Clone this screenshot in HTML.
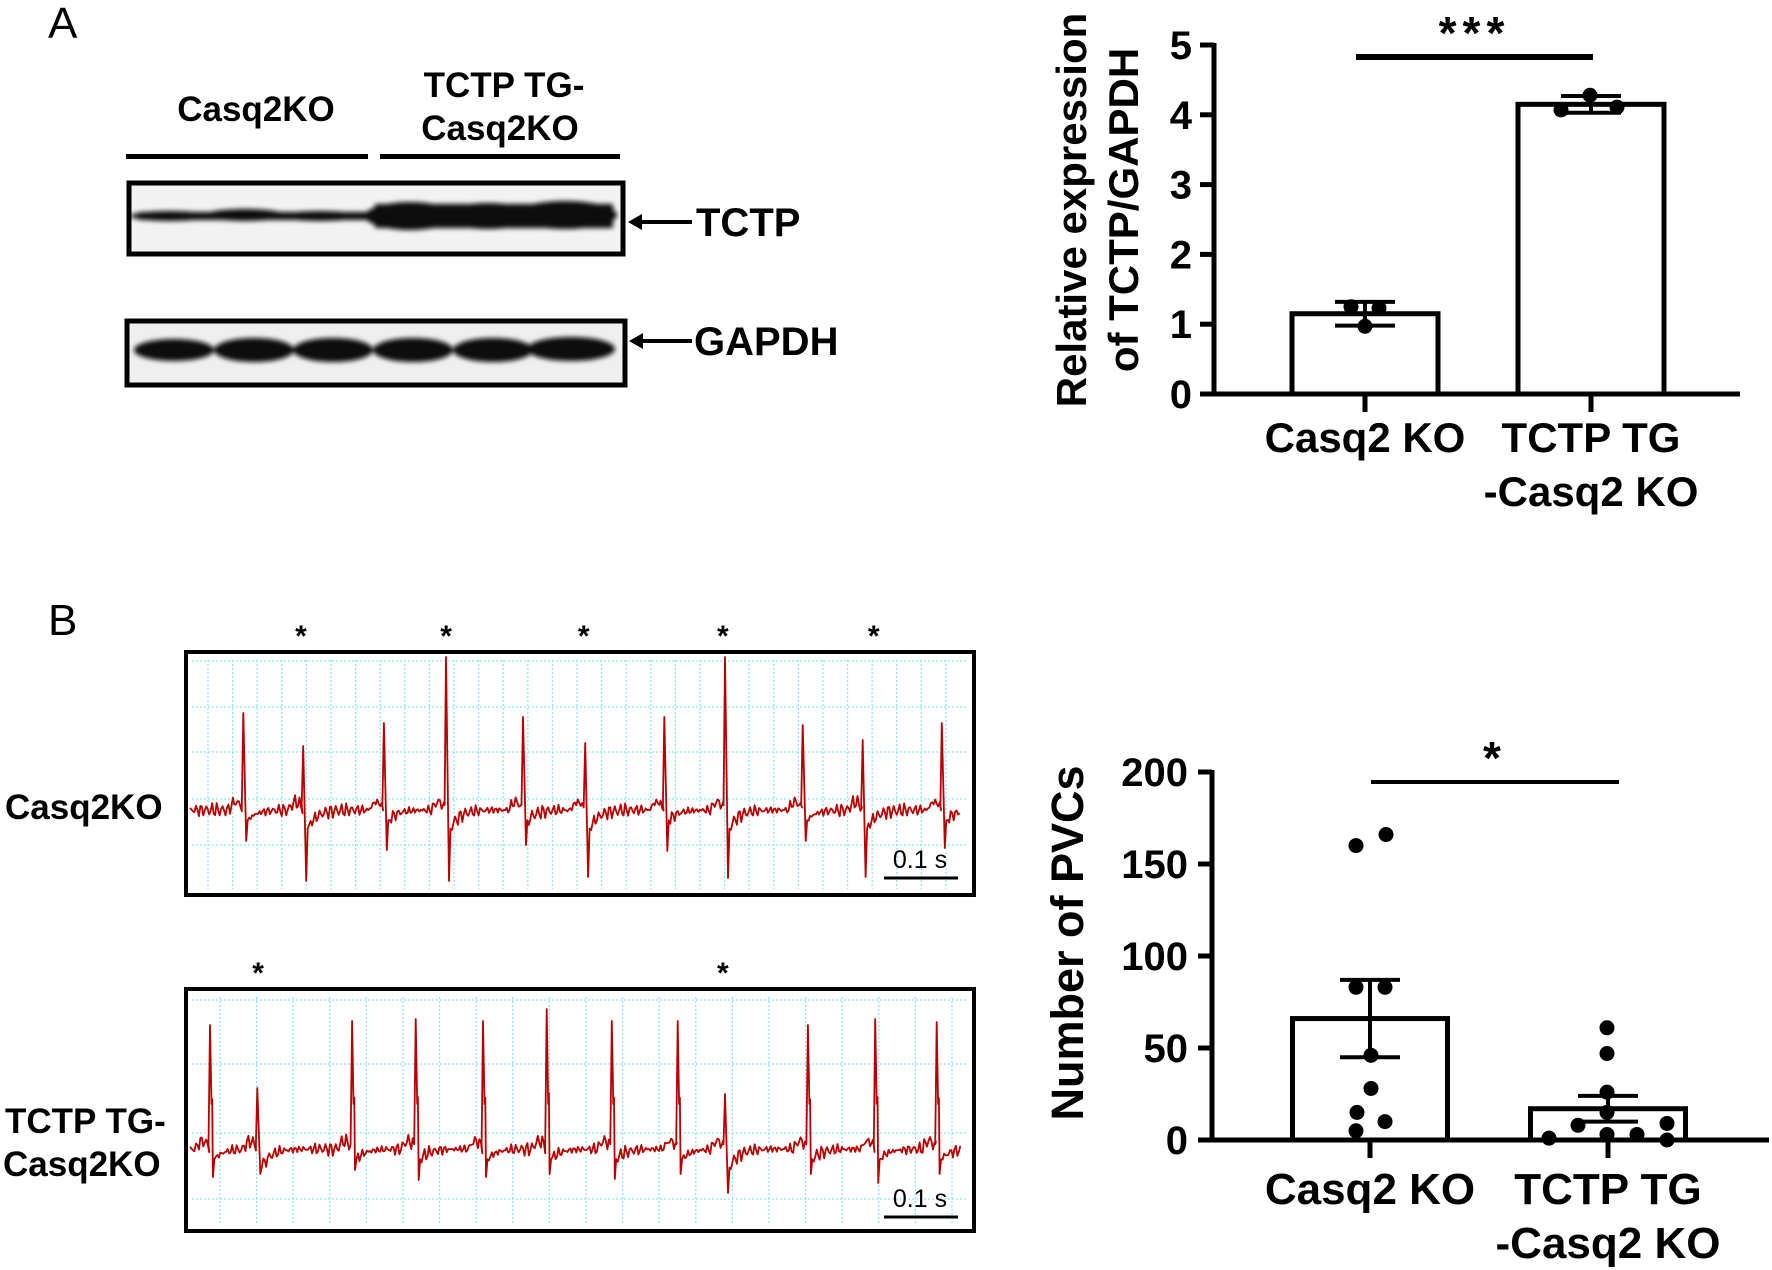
<!DOCTYPE html>
<html><head><meta charset="utf-8"><style>
html,body{margin:0;padding:0;background:#fff;}
svg{display:block;font-family:"Liberation Sans",Arial,sans-serif;}
</style></head><body>
<svg id="fig" width="1772" height="1270" viewBox="0 0 1772 1270" xmlns="http://www.w3.org/2000/svg">
<defs><filter id="blur" x="-10%" y="-50%" width="120%" height="200%"><feGaussianBlur stdDeviation="2.5"/></filter></defs>
<!-- Panel A: western blot -->
<g>
<text x="48" y="38" font-size="44">A</text>
<text x="256" y="121" font-size="35" font-weight="bold" text-anchor="middle">Casq2KO</text>
<text x="504" y="97" font-size="35" font-weight="bold" text-anchor="middle">TCTP TG-</text>
<text x="500" y="140" font-size="35" font-weight="bold" text-anchor="middle">Casq2KO</text>
<rect x="126" y="154" width="242" height="5" fill="#000"/>
<rect x="380" y="154" width="240" height="5" fill="#000"/>
<g>
<rect x="129" y="183" width="494" height="71" fill="#f2f2f2"/>
<g filter="url(#blur)">
<ellipse cx="170" cy="216" rx="40" ry="5" fill="#111"/>
<ellipse cx="245" cy="215" rx="40" ry="6" fill="#111"/>
<ellipse cx="320" cy="216" rx="40" ry="5" fill="#111"/>
<rect x="140" y="212" width="230" height="8" fill="#111"/>
<ellipse cx="410" cy="216" rx="45" ry="14" fill="#080808"/>
<ellipse cx="488" cy="216" rx="45" ry="13" fill="#080808"/>
<ellipse cx="565" cy="215" rx="52" ry="14" fill="#080808"/>
<rect x="375" y="204" width="238" height="24" fill="#080808"/>
</g>
<rect x="129" y="183" width="494" height="71" fill="none" stroke="#000" stroke-width="5"/>
</g>
<g>
<rect x="127" y="321" width="498" height="64" fill="#efefef"/>
<g filter="url(#blur)">
<ellipse cx="174" cy="350" rx="40" ry="11" fill="#0a0a0a"/>
<ellipse cx="254" cy="350" rx="40" ry="12" fill="#0a0a0a"/>
<ellipse cx="333" cy="350" rx="40" ry="12" fill="#0a0a0a"/>
<ellipse cx="413" cy="350" rx="40" ry="12" fill="#0a0a0a"/>
<ellipse cx="493" cy="350" rx="40" ry="12" fill="#0a0a0a"/>
<ellipse cx="571" cy="349" rx="44" ry="12" fill="#0a0a0a"/>
</g>
<rect x="127" y="321" width="498" height="64" fill="none" stroke="#000" stroke-width="5"/>
</g>
<g><line x1="640" y1="222" x2="692" y2="222" stroke="#000" stroke-width="4"/><polygon points="628,222 642,214 642,230" fill="#000"/></g>
<text x="696" y="236" font-size="40" font-weight="bold">TCTP</text>
<g><line x1="641" y1="341" x2="692" y2="341" stroke="#000" stroke-width="4"/><polygon points="629,341 643,333 643,349" fill="#000"/></g>
<text x="694" y="355" font-size="40" font-weight="bold">GAPDH</text>
</g>
<!-- Panel B labels -->
<text x="48" y="635" font-size="44">B</text>
<text x="5" y="819" font-size="35" font-weight="bold">Casq2KO</text>
<text x="5" y="1133" font-size="35" font-weight="bold">TCTP TG-</text>
<text x="3" y="1176" font-size="35" font-weight="bold">Casq2KO</text>
<g id="ecg1"></g>
<g id="ecg2"></g>
<g id="chartA"></g>
<g id="chartB"></g>
</svg>
<script>
// ---- Chart A data ----
var catsA = ["Casq2 KO", "TCTP TG|-Casq2 KO"];
var meansA = [1.15, 4.15];
var semsA = [0.17, 0.12];
var pointsA0 = [1.25, 1.23, 0.97];
var pointsA1 = [4.07, 4.28, 4.11];
var ticksA = [0, 1, 2, 3, 4, 5];
// ---- Chart B data ----
var catsB = ["Casq2 KO", "TCTP TG|-Casq2 KO"];
var meansB = [66, 17];
var semsB = [21, 7];
var pointsB0 = [160, 166, 83, 83, 46, 28, 15, 10, 5];
var pointsB1 = [61, 47, 26, 15, 8, 9, 1, 3, 3, 0];
var ticksB = [0, 50, 100, 150, 200];
// ---- ECG data ----
var ecg1Times = [0.072, 0.153, 0.262, 0.346, 0.450, 0.534, 0.641, 0.723, 0.828, 0.909, 1.016];
var ecg1Up = [0.97, 0.64, 0.87, 1.53, 0.93, 0.67, 0.93, 1.53, 0.85, 0.70, 0.87];
var ecg1Down = [-0.31, -0.71, -0.40, -0.71, -0.35, -0.67, -0.41, -0.68, -0.31, -0.67, -0.38];
var ecg1Type = ["N", "P", "N", "P", "N", "P", "N", "P", "N", "P", "N"];
var ecg1Stars = [0.150, 0.346, 0.532, 0.720, 0.924];
var ecg2Times = [0.027, 0.091, 0.219, 0.305, 0.396, 0.482, 0.570, 0.659, 0.723, 0.835, 0.926, 1.009];
var ecg2Up = [1.24, 0.61, 1.28, 1.30, 1.28, 1.40, 1.28, 1.28, 0.55, 1.24, 1.30, 1.27];
var ecg2Down = [-0.28, -0.25, -0.21, -0.31, -0.28, -0.25, -0.30, -0.25, -0.44, -0.25, -0.34, -0.25];
var ecg2Type = ["N", "P", "N", "N", "N", "N", "N", "N", "P", "N", "N", "N"];
var ecg2Stars = [0.092, 0.720];

var NS = "http://www.w3.org/2000/svg";
function mk(parent, tag, attrs, text) {
  var e = document.createElementNS(NS, tag);
  for (var k in attrs) e.setAttribute(k, attrs[k]);
  if (text !== undefined) e.textContent = text;
  parent.appendChild(e);
  return e;
}

function barChart(g, cfg) {
  var y = function (v) { return cfg.y0 - v * cfg.k; };
  var axX = cfg.axisX, base = y(0);
  var ya = mk(g, "line", {x1: axX, y1: y(cfg.ticks[cfg.ticks.length - 1]) - 2, x2: axX, y2: base + 2, stroke: "#000", "stroke-width": 5});
  
  
  var xa = mk(g, "line", {x1: axX - 2, y1: base, x2: cfg.axisEnd, y2: base, stroke: "#000", "stroke-width": 5});
  
  
  cfg.ticks.forEach(function (t) {
    var tm = mk(g, "line", {x1: axX - 14, y1: y(t), x2: axX, y2: y(t), stroke: "#000", "stroke-width": 5});
    
    
    var tl = mk(g, "text", {x: cfg.labelRight, y: y(t) + 14, "font-size": 40, "font-weight": "bold", "text-anchor": "end"}, String(t));
    
    
  });
  for (var i = 0; i < cfg.means.length; i++) {
    var cx = cfg.centers[i];
    var bar = mk(g, "rect", {x: cx - cfg.barW / 2, y: y(cfg.means[i]), width: cfg.barW, height: base - y(cfg.means[i]), fill: "#fff", stroke: "#000", "stroke-width": 5});
    
    
    var xt = mk(g, "line", {x1: cx, y1: base, x2: cx, y2: base + 18, stroke: "#000", "stroke-width": 5});
    
    
    var pts = cfg.points[i];
    for (var j = 0; j < pts.length; j++) {
      var dot = mk(g, "circle", {cx: cx + cfg.jitter[i][j], cy: y(pts[j]), r: 7.5, fill: "#000"});
      
      
    }
    var hi = y(cfg.means[i] + cfg.sems[i]), lo = y(cfg.means[i] - cfg.sems[i]);
    var eb = mk(g, "path", {d: "M" + cx + "," + hi + "V" + lo + "M" + (cx - 30) + "," + hi + "H" + (cx + 30) + "M" + (cx - 30) + "," + lo + "H" + (cx + 30), stroke: "#000", "stroke-width": 4, fill: "none"});
    
    
    var lines = cfg.cats[i].split("|");
    for (var L = 0; L < lines.length; L++) {
      var cl = mk(g, "text", {x: cx, y: cfg.catY + L * 54, "font-size": cfg.catFont, "font-weight": "bold", "text-anchor": "middle"}, lines[L]);
      
      
    }
  }
  var sl = mk(g, "line", {x1: cfg.sig[0], y1: cfg.sig[2], x2: cfg.sig[1], y2: cfg.sig[2], stroke: "#000", "stroke-width": cfg.sigW});
  
  
  var st = mk(g, "text", {x: (cfg.sig[0] + cfg.sig[1]) / 2, y: cfg.sig[2] - 8, "font-size": 46, "font-weight": "bold", "text-anchor": "middle", "letter-spacing": 6}, cfg.star);
  
  
  var tg = mk(g, "g", {transform: "translate(" + cfg.titleX + "," + cfg.titleY + ") rotate(-90)"});
  for (var m = 0; m < cfg.title.length; m++) {
    var tt = mk(tg, "text", {x: 0, y: m * 52, "font-size": cfg.titleFont, "font-weight": "bold", "text-anchor": "middle"}, cfg.title[m]);
    
    
  }
}

barChart(document.getElementById("chartA"), {
  y0: 394, k: 69.8, axisX: 1214, axisEnd: 1740, labelRight: 1192,
  ticks: ticksA, means: meansA, sems: semsA, points: [pointsA0, pointsA1],
  jitter: [[-14, 14, 0], [-30, -1, 26]],
  centers: [1365, 1591], barW: 146, cats: catsA, catY: 452, catFont: 42,
  sig: [1356, 1593, 57], sigW: 6, star: "***",
  title: ["Relative expression", "of TCTP/GAPDH"], titleX: 1086, titleY: 210, titleFont: 42
});
barChart(document.getElementById("chartB"), {
  y0: 1140, k: 1.84, axisX: 1212, axisEnd: 1769, labelRight: 1188,
  ticks: ticksB, means: meansB, sems: semsB, points: [pointsB0, pointsB1],
  jitter: [[-14, 16, -14, 15, 1, 1, -13, 15, -14], [-1, -1, -1, -1, -30, 59, -59, -1, 29, 59]],
  centers: [1370, 1608], barW: 155, cats: catsB, catY: 1204, catFont: 44,
  sig: [1371, 1619, 782], sigW: 4, star: "*",
  title: ["Number of PVCs"], titleX: 1083, titleY: 943, titleFont: 45
});

// ---- ECG panels ----
function ecg(g, cfg) {
  var bx = cfg.box;
  var fr = mk(g, "rect", {x: bx[0], y: bx[1], width: bx[2], height: bx[3], fill: "#fff"});
  
  
  var grid = mk(g, "g", {stroke: "#8fe3f0", "stroke-width": 1.2, "stroke-dasharray": "2,2"});
  
  
  for (var gx = bx[0] + cfg.gx0; gx < bx[0] + bx[2] - 6; gx += cfg.gdx) mk(grid, "line", {x1: gx, y1: bx[1] + 8, x2: gx, y2: bx[1] + bx[3] - 6});
  cfg.gys.forEach(function (gy) { mk(grid, "line", {x1: bx[0] + 6, y1: gy, x2: bx[0] + bx[2] - 8, y2: gy}); });
  var X = function (t) { return cfg.x0 + t * cfg.kx; };
  var Y = function (a) { return cfg.base - a * 100; };
  var t = 0, end = cfg.tEnd, step = 0.002, bi = 0;
  function wig(tt) { return 0.035 * Math.sin(tt * 900) + 0.025 * Math.sin(tt * 2300 + 1) + 0.02 * Math.sin(tt * 5100); }
  function drift(tt) {
    var v = 0;
    for (var i = 0; i < cfg.times.length; i++) {
      var dt = tt - cfg.times[i];
      if (dt > 0.004 && dt < 0.06) {
        var dep = cfg.types[i] === "P" ? 0.22 : 0.12;
        v -= dep * Math.exp(-(dt - 0.004) / 0.012);
      }
      var pd = cfg.times[i] - tt;
      if (pd > 0 && pd < 0.02) v += 0.08 * Math.sin(pd / 0.02 * Math.PI);
    }
    return v;
  }
  var d = "M" + X(0).toFixed(1) + "," + Y(wig(0)).toFixed(1);
  while (t < end) {
    var next = bi < cfg.times.length ? cfg.times[bi] : 99;
    if (t + step >= next) {
      var tb = next;
      d += "L" + X(tb - 0.002).toFixed(1) + "," + Y(drift(tb - 0.004)).toFixed(1);
      d += "L" + X(tb).toFixed(1) + "," + Y(cfg.up[bi]).toFixed(1);
      if (cfg.types[bi] === "N" && cfg.notch) d += "L" + X(tb + 0.002).toFixed(1) + "," + Y(0.45).toFixed(1) + "L" + X(tb + 0.003).toFixed(1) + "," + Y(cfg.up[bi] * 0.4).toFixed(1);
      d += "L" + X(tb + 0.004).toFixed(1) + "," + Y(cfg.down[bi]).toFixed(1);
      d += "L" + X(tb + 0.006).toFixed(1) + "," + Y(drift(tb + 0.006)).toFixed(1);
      t = tb + 0.006; bi++;
      continue;
    }
    t += step;
    d += "L" + X(t).toFixed(1) + "," + Y(wig(t) + drift(t)).toFixed(1);
  }
  var tr = mk(g, "path", {d: d, fill: "none", stroke: "#b80000", "stroke-width": 1.8, "stroke-linejoin": "round"});
  
  
  var br = mk(g, "rect", {x: bx[0], y: bx[1], width: bx[2], height: bx[3], fill: "none", stroke: "#000", "stroke-width": 4});
  
  
  cfg.stars.forEach(function (s) {
    var st = mk(g, "text", {x: X(s), y: bx[1] - 6, "font-size": 30, "font-weight": "bold", "text-anchor": "middle"}, "*");
    
    
  });
  var sb = mk(g, "line", {x1: 884, y1: cfg.sbY, x2: 958, y2: cfg.sbY, stroke: "#000", "stroke-width": 3});
  
  
  var sbl = mk(g, "text", {x: 920, y: cfg.sbY - 10, "font-size": 25, "text-anchor": "middle"}, "0.1 s");
  
  
}
ecg(document.getElementById("ecg1"), {
  box: [186, 652, 788, 243], gx0: 22, gdx: 24.6, gys: [661, 707, 752, 799, 845],
  x0: 190, kx: 740, base: 810, tEnd: 1.04,
  times: ecg1Times, up: ecg1Up, down: ecg1Down, types: ecg1Type, stars: ecg1Stars,
  notch: false, sbY: 878
});
ecg(document.getElementById("ecg2"), {
  box: [186, 989, 788, 242], gx0: 34, gdx: 36.6, gys: [1000, 1064, 1133, 1199],
  x0: 190, kx: 740, base: 1149, tEnd: 1.04,
  times: ecg2Times, up: ecg2Up, down: ecg2Down, types: ecg2Type, stars: ecg2Stars,
  notch: true, sbY: 1217
});
</script>
</body></html>
